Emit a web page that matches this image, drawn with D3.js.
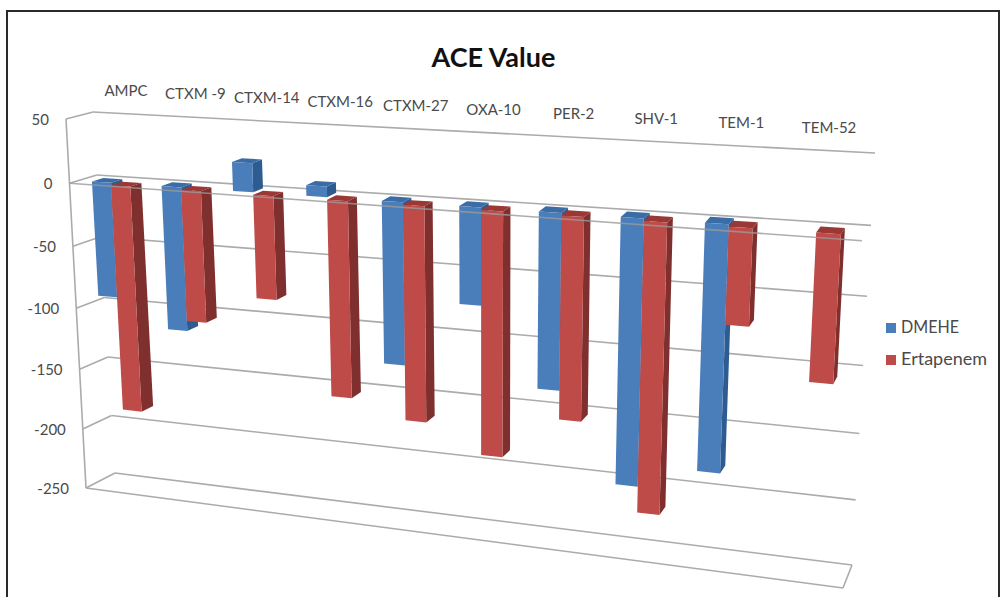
<!DOCTYPE html>
<html>
<head>
<meta charset="utf-8">
<script src="https://cdn.jsdelivr.net/npm/d3@7"></script>
<style>
  html, body { margin: 0; padding: 0; background: #fff; }
  svg { display: block; }
  text { font-family: Lato, "Open Sans", sans-serif; fill: #4a4a4a; }
</style>
</head>
<body>
<svg id="chart" width="1002" height="597"></svg>
<script>
const categories = ["AMPC", "CTXM -9", "CTXM-14", "CTXM-16", "CTXM-27", "OXA-10", "PER-2", "SHV-1", "TEM-1", "TEM-52"];
const dmehe      = [-91, -113, 22, 8, -124, -73, -132, -199, -182, null];
const ertapenem  = [-181, -103, -80, -152, -165, -186, -152, -217, -70, -106];
const seriesNames = ["DMEHE", "Ertapenem"];
const valueTicks = [50, 0, -50, -100, -150, -200, -250];
const legendWidths = [58, 86];

const seriesValues = [dmehe, ertapenem];
const palette = [
  { front: "#4a7ebb", side: "#2f5c90", top: "#3b6ca6" },
  { front: "#be4b48", side: "#7f2f2d", top: "#9a3835" }
];

// Corners of the chart box as seen in perspective: top-left, top-right, bottom-right, bottom-left.
const frontQuad = [[66, 119], [866, 167], [843, 588], [86, 488]];
const backQuad  = [[93, 112], [875, 153], [852, 565], [115, 473]];
// Bars stand on a plane set slightly inside the front; its right end recedes further.
const barInsetX = [0.47, 0.7, 0.7, 0.47];
const barInsetY = [0, 0.3, 0.3, 0];
const barQuad = frontQuad.map((p, i) => [
  p[0] + barInsetX[i] * (backQuad[i][0] - p[0]),
  p[1] + barInsetY[i] * (backQuad[i][1] - p[1])
]);
const barDepth = 0.42;
// The first series stands a touch further back than the second.
const seriesLift = [-2.5, 0];

// Projective map from the unit square onto a quadrilateral.
function homography(q) {
  const [[x0, y0], [x1, y1], [x2, y2], [x3, y3]] = q;
  const dx1 = x1 - x2, dx2 = x3 - x2, sx = x0 - x1 + x2 - x3;
  const dy1 = y1 - y2, dy2 = y3 - y2, sy = y0 - y1 + y2 - y3;
  const det = dx1 * dy2 - dx2 * dy1;
  const g = (sx * dy2 - dx2 * sy) / det;
  const h = (dx1 * sy - sx * dy1) / det;
  const a = x1 - x0 + g * x1, b = x3 - x0 + h * x3;
  const d = y1 - y0 + g * y1, e = y3 - y0 + h * y3;
  return (u, v) => {
    const w = g * u + h * v + 1;
    return [(a * u + b * v + x0) / w, (d * u + e * v + y0) / w];
  };
}
const front = homography(frontQuad);
const back  = homography(backQuad);
const bar   = homography(barQuad);

const vScale = d3.scaleLinear().domain([50, -250]).range([0, 1]);
const uScale = d3.scaleBand().domain(categories).range([0, 1]);
const seriesScale = d3.scaleBand().domain(seriesNames)
  .range([0.14 * uScale.bandwidth(), 0.695 * uScale.bandwidth()]);

// A point on a bar: d = 0 is its front face, d = 1 its back face.
function barPoint(u, value, d, s) {
  const v = vScale(value);
  const p = bar(u, v), f = front(u, v), b = back(u, v);
  return [p[0] + d * barDepth * (b[0] - f[0]),
          p[1] + d * barDepth * (b[1] - f[1]) + seriesLift[s]];
}

const svg = d3.select("#chart");
const poly = pts => pts.map(p => p.map(n => n.toFixed(2)).join(",")).join(" ");

// Outer frame
svg.append("rect").attr("x", 7).attr("y", 11).attr("width", 992).attr("height", 600)
  .attr("fill", "#fff").attr("stroke", "#2a2a2a").attr("stroke-width", 2);

// Walls and floor
const gridG = svg.append("g").attr("stroke", "#ababab").attr("stroke-width", 1.6).attr("fill", "none");
const seg = (g, a, b) => g.append("line")
  .attr("x1", a[0]).attr("y1", a[1]).attr("x2", b[0]).attr("y2", b[1]);

valueTicks.forEach(t => {
  const v = vScale(t);
  seg(gridG, back(0, v), back(1, v));
  seg(gridG, front(0, v), back(0, v));
});
seg(gridG, front(0, 0), front(0, 1));
seg(gridG, front(0, 1), front(1, 1));
seg(gridG, front(1, 1), back(1, 1));

// Bars, painted left to right so nearer faces overlap correctly
categories.forEach((cat, i) => {
  seriesNames.forEach((name, s) => {
    const val = seriesValues[s][i];
    if (val == null) return;
    const u0 = uScale(cat) + seriesScale(name);
    const u1 = u0 + seriesScale.bandwidth();
    const hi = Math.max(val, 0), lo = Math.min(val, 0);
    const c = palette[s];
    const g = svg.append("g").attr("class", "bar");
    g.append("polygon").attr("fill", c.side).attr("points", poly([
      barPoint(u1, hi, 0, s), barPoint(u1, hi, 1, s), barPoint(u1, lo, 1, s), barPoint(u1, lo, 0, s)]));
    g.append("polygon").attr("fill", c.top).attr("points", poly([
      barPoint(u0, hi, 0, s), barPoint(u0, hi, 1, s), barPoint(u1, hi, 1, s), barPoint(u1, hi, 0, s)]));
    g.append("polygon").attr("fill", c.front).attr("points", poly([
      barPoint(u0, hi, 0, s), barPoint(u1, hi, 0, s), barPoint(u1, lo, 0, s), barPoint(u0, lo, 0, s)]));
  });
});

// Zero axis runs across the front of the bars
seg(svg.append("g").attr("stroke", "#9a9a9a").attr("stroke-width", 1.6).attr("stroke-opacity", 0.8),
  front(0, vScale(0)), front(1, vScale(0)));

// Value labels
svg.append("g").attr("font-size", 15).attr("text-anchor", "end")
  .selectAll("text").data(valueTicks).join("text")
  .attr("x", d => front(0, vScale(d))[0] - 17)
  .attr("y", d => front(0, vScale(d))[1] + 6)
  .text(d => d);

// Category labels sit above the back wall
svg.append("g").attr("font-size", 15).attr("text-anchor", "middle")
  .selectAll("text").data(categories).join("text")
  .attr("x", d => back(uScale(d) + uScale.bandwidth() / 2, 0)[0] - 1)
  .attr("y", d => back(uScale(d) + uScale.bandwidth() / 2, 0)[1] - 18)
  .text(d => d);

// Title
svg.append("text").attr("x", 493.5).attr("y", 67).attr("text-anchor", "middle")
  .attr("font-size", 27).attr("font-weight", 700).style("fill", "#111")
  .text("ACE Value");

// Legend
const legend = svg.append("g").selectAll("g").data(seriesNames).join("g")
  .attr("transform", (d, i) => `translate(886,${323 + i * 32})`);
legend.append("rect").attr("width", 10).attr("height", 10)
  .attr("fill", (d, i) => palette[i].front);
legend.append("text").attr("x", 15).attr("y", 10).attr("font-size", 17)
  .attr("textLength", (d, i) => legendWidths[i]).attr("lengthAdjust", "spacingAndGlyphs")
  .text(d => d);
</script>
</body>
</html>
